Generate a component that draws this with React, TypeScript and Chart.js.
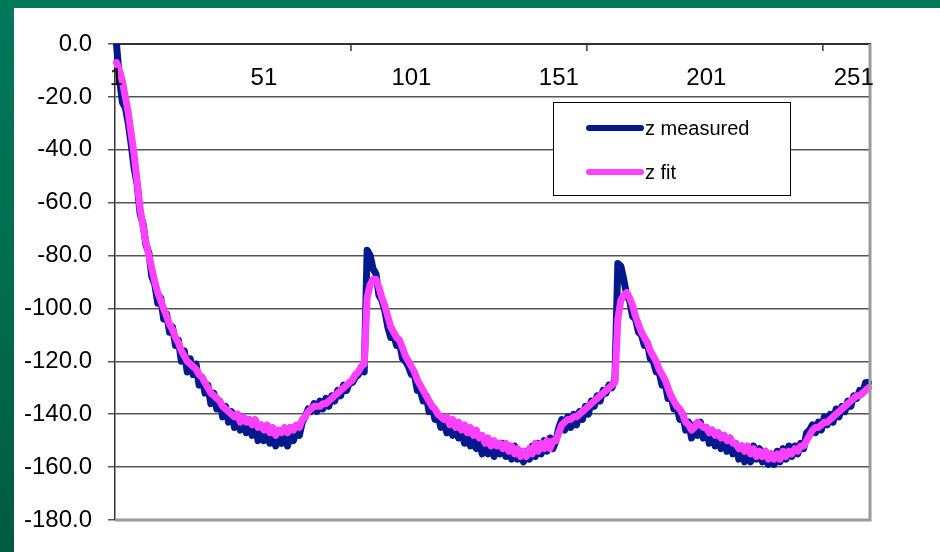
import React, { useEffect, useRef } from 'react';
import { Chart, registerables } from 'chart.js';

Chart.register(...registerables);

const categories: string[] = Array.from({ length: 256 }, (_, i) => String(i + 1));
const xTickLabels = ['1', '51', '101', '151', '201', '251'];
const xTickMarkEvery = 80;
const yMin = -180;
const yMax = 0;
const yStep = 20;

const seriesNames = ['z measured', 'z fit'];
const seriesColors = ['#00198C', '#FF40FF'];

const zMeasured = [
  0, -13, -22, -24, -30, -38, -47, -53, -64, -68,
  -76, -79, -88, -91, -98, -96, -104, -102, -109, -107,
  -114, -112, -120, -116, -124, -119, -125, -121, -129, -126,
  -132, -129, -136, -132, -138, -135, -141, -137, -143, -139,
  -145, -140, -146, -141, -147, -142, -148, -143, -150, -145,
  -150, -146, -151, -148, -152, -147, -151, -146, -152, -145,
  -150, -146, -148, -143, -141, -138, -139, -136, -139, -135,
  -138, -134, -137, -133, -135, -131, -133, -129, -131, -128,
  -128, -126, -125, -123, -124, -78, -80, -85, -87, -95,
  -97, -101, -107, -111, -110, -114, -113, -119, -120, -122,
  -125, -125, -131, -131, -135, -133, -139, -137, -142, -140,
  -145, -142, -147, -143, -148, -144, -149, -146, -151, -147,
  -152, -148, -153, -150, -155, -151, -155, -151, -156, -152,
  -155, -151, -156, -152, -157, -152, -157, -154, -158, -154,
  -157, -152, -156, -151, -155, -150, -154, -149, -153, -150,
  -145, -142, -146, -141, -145, -140, -144, -139, -142, -137,
  -140, -135, -137, -133, -135, -131, -132, -129, -130, -127,
  -83, -84, -89, -95, -97, -103, -104, -109, -110, -114,
  -113, -119, -120, -124, -124, -129, -128, -134, -133, -138,
  -137, -142, -140, -146, -143, -149, -144, -148, -143, -149,
  -145, -151, -146, -152, -147, -153, -148, -154, -149, -155,
  -151, -157, -152, -158, -153, -158, -152, -157, -153, -158,
  -154, -159, -155, -159, -154, -158, -153, -157, -152, -156,
  -152, -155, -151, -153, -147, -146, -144, -147, -143, -146,
  -141, -144, -140, -143, -138, -141, -137, -139, -135, -137,
  -133, -134, -131, -132, -128, -128,
];

const zFit = [
  -7, -10, -14, -20, -26, -34, -42, -52, -62, -69,
  -75, -80, -85, -90, -94, -97, -100, -103, -106, -108,
  -111, -113, -116, -118, -120, -121, -122, -123, -125, -126,
  -128, -130, -132, -133, -134, -135, -137, -138, -139, -140,
  -141, -140, -143, -141, -143, -142, -144, -142, -145, -144,
  -146, -144, -147, -145, -148, -146, -147, -145, -147, -145,
  -146, -144, -145, -142, -141, -139, -138, -137, -137, -137,
  -136, -136, -135, -134, -133, -132, -131, -130, -129, -128,
  -127, -125, -124, -122, -121, -96, -91, -89, -89, -92,
  -96, -99, -103, -107, -109, -111, -112, -115, -118, -120,
  -122, -124, -127, -129, -131, -133, -135, -137, -138, -140,
  -141, -142, -141, -144, -142, -145, -143, -146, -144, -147,
  -145, -148, -146, -149, -148, -151, -149, -152, -150, -152,
  -151, -153, -151, -154, -152, -155, -153, -156, -154, -156,
  -153, -155, -151, -154, -151, -153, -150, -153, -150, -150,
  -147, -144, -143, -142, -142, -141, -141, -140, -139, -138,
  -137, -136, -135, -134, -133, -132, -131, -130, -129, -128,
  -104, -97, -95, -94, -96, -99, -103, -106, -109, -111,
  -113, -116, -118, -120, -123, -125, -127, -130, -133, -135,
  -137, -138, -140, -143, -144, -146, -145, -143, -144, -145,
  -145, -147, -146, -148, -147, -149, -148, -150, -149, -151,
  -151, -153, -152, -154, -152, -155, -153, -156, -154, -156,
  -154, -157, -155, -157, -155, -157, -154, -156, -154, -155,
  -153, -154, -152, -152, -150, -148, -146, -145, -145, -144,
  -143, -143, -142, -141, -140, -139, -138, -137, -136, -135,
  -134, -133, -133, -132, -131, -130,
];

const FONT = 'Arial, "Liberation Sans", sans-serif';

const framePlugin = {
  id: 'frame',
  afterDatasetsDraw(chart: any) {
    const { ctx, chartArea } = chart;
    const { left, right, top, bottom } = chartArea;
    ctx.save();
    ctx.strokeStyle = '#9a9a9a';
    ctx.lineWidth = 3;
    ctx.beginPath();
    ctx.moveTo(right, top);
    ctx.lineTo(right, bottom);
    ctx.lineTo(left, bottom);
    ctx.stroke();
    const xs = chart.scales.x;
    ctx.strokeStyle = '#333';
    ctx.lineWidth = 1.5;
    for (let k = xTickMarkEvery; k < categories.length; k += xTickMarkEvery) {
      const px = (xs.getPixelForValue(k - 1) + xs.getPixelForValue(k)) / 2;
      ctx.beginPath();
      ctx.moveTo(px, top);
      ctx.lineTo(px, top + 7);
      ctx.stroke();
    }
    ctx.restore();
  },
  afterDraw(chart: any) {
    const { ctx } = chart;
    const bx = 539, by = 94, bw = 237, bh = 93;
    ctx.save();
    ctx.fillStyle = '#ffffff';
    ctx.fillRect(bx, by, bw, bh);
    ctx.strokeStyle = '#000';
    ctx.lineWidth = 1;
    ctx.strokeRect(bx + 0.5, by + 0.5, bw, bh);
    const rows = [120, 164];
    chart.data.datasets.forEach((ds: any, i: number) => {
      const y = rows[i];
      ctx.strokeStyle = ds.borderColor;
      ctx.lineWidth = 6;
      ctx.lineCap = 'round';
      ctx.beginPath();
      ctx.moveTo(575, y);
      ctx.lineTo(627, y);
      ctx.stroke();
      ctx.fillStyle = '#000';
      ctx.font = `20px ${FONT}`;
      ctx.textAlign = 'left';
      ctx.textBaseline = 'middle';
      ctx.fillText(ds.label, 631, y + 1);
    });
    ctx.restore();
  },
};

function ChartView() {
  const ref = useRef<HTMLCanvasElement | null>(null);
  useEffect(() => {
    if (!ref.current) return;
    const chart = new Chart(ref.current, {
      type: 'line',
      data: {
        labels: categories,
        datasets: [
          {
            label: seriesNames[0],
            data: zMeasured,
            borderColor: seriesColors[0],
            backgroundColor: seriesColors[0],
            borderWidth: 7,
            pointRadius: 0,
            tension: 0,
            borderJoinStyle: 'round',
            borderCapStyle: 'round',
            order: 1,
          },
          {
            label: seriesNames[1],
            data: zFit,
            borderColor: seriesColors[1],
            backgroundColor: seriesColors[1],
            borderWidth: 7,
            pointRadius: 0,
            tension: 0,
            borderJoinStyle: 'round',
            borderCapStyle: 'round',
            order: 0,
          },
        ],
      },
      options: {
        responsive: false,
        animation: false,
        events: [],
        layout: { padding: { left: 0, top: 0, right: 70, bottom: 32 } },
        plugins: {
          legend: { display: false },
          tooltip: { enabled: false },
        },
        scales: {
          x: {
            type: 'category',
            position: 'top',
            offset: true,
            afterFit: (s: any) => { s.height = 36; },
            grid: { display: true, drawOnChartArea: false, drawTicks: false },
            border: { display: true, color: '#333', width: 2 },
            ticks: {
              autoSkip: false,
              maxRotation: 0,
              minRotation: 0,
              mirror: true,
              padding: 20,
              z: 1,
              color: '#000',
              font: { family: FONT, size: 24 },
              callback: (_v: any, idx: number) =>
                xTickLabels.includes(categories[idx]) ? categories[idx] : null,
            },
          },
          y: {
            type: 'linear',
            min: yMin,
            max: yMax,
            afterFit: (s: any) => { s.width = 101; },
            grid: { color: '#555', lineWidth: 1.5, tickLength: 7 },
            border: { display: true, color: '#333', width: 1.5 },
            ticks: {
              stepSize: yStep,
              padding: 16,
              color: '#000',
              font: { family: FONT, size: 24 },
              callback: (v: any) => Number(v).toFixed(1),
            },
          },
        },
      },
      plugins: [framePlugin],
    });
    return () => chart.destroy();
  }, []);
  return (
    <canvas
      ref={ref}
      width={926}
      height={544}
      style={{ position: 'absolute', left: 14, top: 8, width: 926, height: 544, background: '#ffffff' }}
    />
  );
}

export default function App() {
  return (
    <div
      style={{
        position: 'fixed',
        left: 0,
        top: 0,
        width: 940,
        height: 552,
        overflow: 'hidden',
        background: 'linear-gradient(180deg, #00785a 0%, #006e4e 50%, #005a40 100%)',
      }}
    >
      <ChartView />
    </div>
  );
}
